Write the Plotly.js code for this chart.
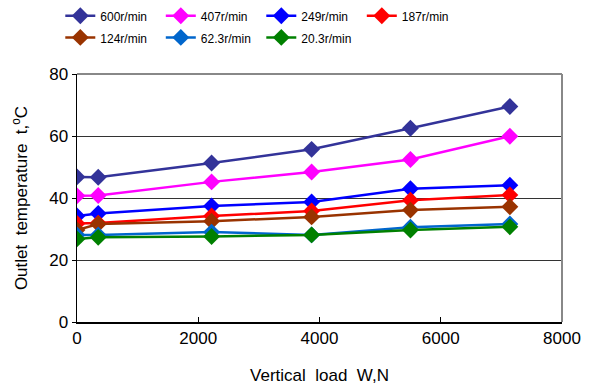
<!DOCTYPE html>
<html>
<head>
<meta charset="utf-8">
<script src="https://cdn.plot.ly/plotly-3.0.1.min.js"></script>
<style>html,body{margin:0;padding:0;background:#fff;}#chart{width:591px;height:388px;}</style>
</head>
<body>
<div id="chart"></div>
<script>
const loadN = [0, 350, 2220, 3870, 5500, 7140];
const seriesNames = ["600r/min", "407r/min", "249r/min", "187r/min", "124r/min", "62.3r/min", "20.3r/min"];
const t600 = [46.8, 46.7, 51.3, 55.7, 62.5, 69.5];
const t407 = [40.7, 40.8, 45.2, 48.4, 52.4, 59.9];
const t249 = [34.2, 35.0, 37.4, 38.7, 43.0, 44.1];
const t187 = [31.8, 31.9, 34.2, 35.8, 39.3, 41.0];
const t124 = [29.7, 31.6, 32.5, 33.9, 36.1, 37.2];
const t62 = [28.1, 28.1, 29.0, 28.1, 30.6, 31.6];
const t20 = [26.8, 27.3, 27.6, 28.1, 29.7, 30.7];
const seriesValues = [t600, t407, t249, t187, t124, t62, t20];
const colors = ["#333399", "#FF00FF", "#0000FF", "#FF0000", "#993300", "#0066CC", "#008000"];
const xTicks = [0, 2000, 4000, 6000, 8000];
const yTicks = [0, 20, 40, 60, 80];

const traces = seriesNames.map((n, i) => ({
  type: "scatter", mode: "lines+markers",
  name: '<span style="font-size:12px">' + n + '</span>',
  x: loadN, y: seriesValues[i],
  line: {color: colors[i], width: 2.5},
  marker: {symbol: "diamond", size: 13, color: colors[i]}
}));

const layout = {
  width: 591, height: 388,
  margin: {l: 77, r: 29, t: 74, b: 66},
  paper_bgcolor: "#fff", plot_bgcolor: "#fff",
  font: {family: "Liberation Sans, Arial, sans-serif", color: "#000"},
  showlegend: true,
  legend: {
    orientation: "h", xref: "paper", x: 0.38, xanchor: "center",
    yref: "container", y: 1, yanchor: "top",
    entrywidth: 55.5, entrywidthmode: "pixels",
    font: {size: 14.3, family: "Liberation Sans, Arial, sans-serif"},
    tracegroupgap: 0, itemwidth: 30, bgcolor: "rgba(0,0,0,0)"
  },
  xaxis: {
    range: [0, 8000], tickvals: xTicks, ticktext: xTicks.map(String),
    ticks: "inside", ticklen: 5, tickcolor: "#000",
    showline: true, linecolor: "#000", linewidth: 1.5,
    showgrid: false, zeroline: false,
    tickfont: {size: 17},
    title: {text: "Vertical\u00a0\u00a0load\u00a0\u00a0W,N", font: {size: 17}, standoff: 22}
  },
  yaxis: {
    range: [0, 80], tickvals: yTicks, ticktext: yTicks.map(String),
    ticks: "outside", ticklen: 4, tickcolor: "#000",
    showline: true, linecolor: "#000", linewidth: 1.5,
    showgrid: true, gridcolor: "#333", gridwidth: 1, zeroline: false,
    tickfont: {size: 17},
    title: {text: "Outlet\u00a0\u00a0temperature\u00a0\u00a0t,<sup>o</sup>C", font: {size: 17}, standoff: 17}
  },
  shapes: [
    {type: "line", xref: "paper", yref: "paper", x0: 0, x1: 1, y0: 1, y1: 1, line: {color: "#888", width: 2}},
    {type: "line", xref: "paper", yref: "paper", x0: 1, x1: 1, y0: 0, y1: 1, line: {color: "#888", width: 2}}
  ]
};

Plotly.newPlot("chart", traces, layout, {displayModeBar: false, staticPlot: true});
</script>
</body>
</html>
